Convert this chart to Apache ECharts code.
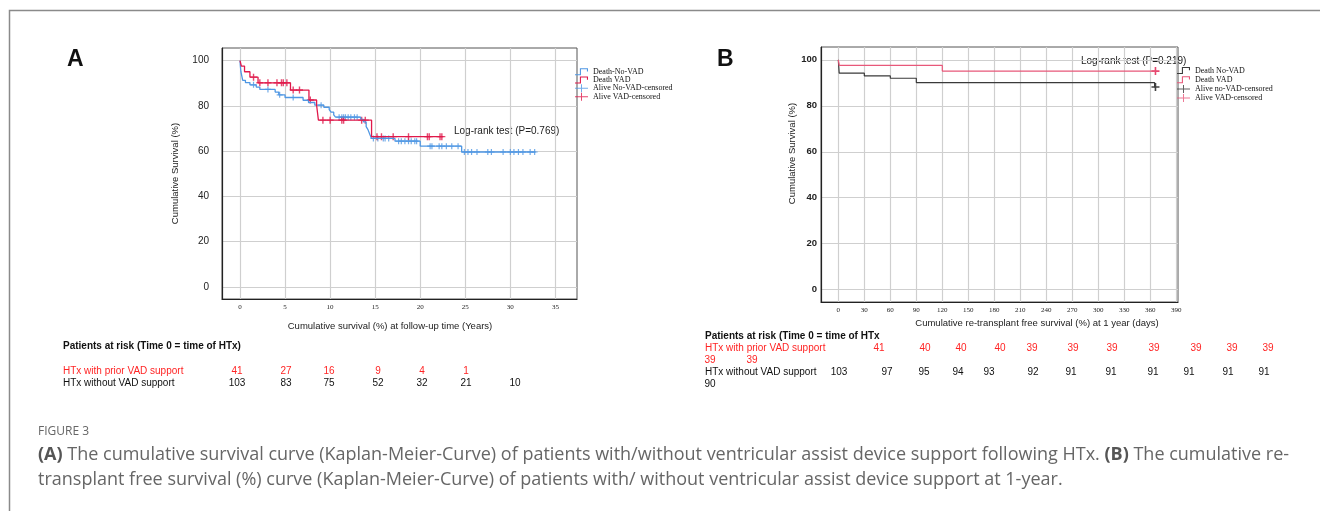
<!DOCTYPE html>
<html lang="en">
<head>
<meta charset="UTF-8">
<title>Figure 3</title>
<style>
  html, body { margin: 0; padding: 0; background: #fff; }
  #chart { width: 1320px; height: 511px; }
</style>
</head>
<body>
<div id="chart"></div>
<script src="https://cdn.jsdelivr.net/npm/echarts@6/dist/echarts.min.js"></script>
<script>
// tick labels
const xTicksA = [0, 5, 10, 15, 20, 25, 30, 35];
const xTicksB = [0, 30, 60, 90, 120, 150, 180, 210, 240, 270, 300, 330, 360, 390];
const yTicks = [0, 20, 40, 60, 80, 100];

// panel A: [years, survival %] after each death step
const noVadStepsA = [[0.05, 97.1], [0.1, 95.1], [0.2, 93.2], [0.3, 91.3], [0.6, 90.3], [1.1, 89.3],
  [1.8, 88.3], [2.2, 87.3], [3.9, 86.1], [4.3, 84.9], [5.0, 83.7], [7.0, 82.5], [7.6, 81.5],
  [8.3, 80.3], [9.3, 79.4], [9.9, 78.3], [10.1, 77.2], [10.4, 76.0], [10.6, 75.0], [13.4, 74.0],
  [13.7, 72.9], [14.0, 70.8], [14.2, 69.5], [14.4, 67.5], [14.6, 65.6], [17.2, 64.4],
  [20.0, 62.2], [24.6, 59.6]];
const noVadEndA = 32.8;
const vadStepsA = [[0.15, 97.6], [0.5, 95.1], [1.1, 92.7], [2.0, 90.2], [5.6, 87.0], [7.65, 82.6],
  [8.5, 80.3], [8.7, 73.7], [14.6, 66.4]];
const vadEndA = 22.5;
const noVadCensorA = [1.5, 3.1, 4.4, 5.9, 9.0, 11.0, 11.3, 11.5, 11.7, 12.0, 12.3, 12.7, 13.0, 14.8,
  15.3, 15.9, 16.1, 16.5, 17.6, 17.9, 18.3, 18.7, 19.0, 19.4, 19.6, 21.1, 21.3, 22.1, 22.4, 22.9,
  23.5, 24.2, 24.9, 25.3, 25.7, 26.3, 27.5, 27.9, 29.2, 30.0, 30.4, 30.9, 31.4, 32.2, 32.7];
const vadCensorA = [1.5, 2.2, 3.1, 4.1, 4.6, 4.8, 5.2, 5.9, 6.6, 7.8, 9.2, 10.0, 11.3, 11.5, 13.5,
  13.9, 15.2, 15.7, 17.0, 18.7, 20.8, 21.0, 22.2, 22.4];

// panel B: [days, survival %]
const noVadStepsB = [[1, 94.2], [30, 93.0], [60, 92.0], [90, 90.1], [365, 88.2]];
const noVadEndB = 366;
const vadStepsB = [[1, 97.6], [120, 95.1]];
const vadEndB = 366;
const noVadCensorB = [366];
const vadCensorB = [366];

// patients at risk
const riskAVad = [41, 27, 16, 9, 4, 1];
const riskANoVad = [103, 83, 75, 52, 32, 21, 10];
const riskBVad = [41, 40, 40, 40, 39, 39, 39, 39, 39, 39, 39, 39, 39];
const riskBNoVad = [103, 97, 95, 94, 93, 92, 91, 91, 91, 91, 91, 91, 90];

// where the risk numbers sit (layout only)
const riskAColX = [237, 286, 329, 378, 422, 466, 515];
const riskBVadX = [879, 925, 961, 1000, 1032, 1073, 1112, 1154, 1196, 1232, 1268, 710, 752];
const riskBNoVadX = [839, 887, 924, 958, 989, 1033, 1071, 1111, 1153, 1189, 1228, 1264, 710];

const blueA = '#4f97e3', redA = '#e0184a', blackB = '#3a3a3a', pinkB = '#e8587a', redRisk = '#ff2424';
const sans = '"Liberation Sans", Arial, sans-serif';
const serif = '"Liberation Serif", "Times New Roman", serif';
const capFont = '"Open Sans", sans-serif';

function kmLine(steps, end) {
  const pts = [[0, 100]].concat(steps);
  pts.push([end, pts[pts.length - 1][1]]);
  return pts;
}
function levelAt(steps, t) {
  let s = 100;
  steps.forEach(p => { if (p[0] <= t) s = p[1]; });
  return s;
}
function censorPts(steps, times) {
  return times.map(t => [t, levelAt(steps, t)]);
}

const plusSym = 'path://M0,4 H10 V6 H0 Z M4,0 H6 V10 H4 Z';
const stepIcon = 'path://M0,6.5 H4.5 V1 H12 V4 H11 V2 H5.5 V7.5 H0 Z';
const plusIcon = 'path://M0,3.5 H13 V4.5 H0 Z M6,0 H7 V8 H6 Z';

function xAxisCfg(grid, min, max, ticks, name, gap, pad) {
  return {
    gridIndex: grid, type: 'value', min: min, max: max,
    name: name, nameLocation: 'middle', nameGap: gap,
    nameTextStyle: { fontFamily: sans, fontSize: 9.5, color: '#222', padding: pad },
    axisLine: { show: true, onZero: false, lineStyle: { color: '#222', width: 1.2 } },
    axisTick: { show: false, customValues: ticks },
    axisLabel: { customValues: ticks, fontFamily: serif, fontSize: 7, color: '#222', margin: 5 },
    splitLine: { show: true, lineStyle: { color: '#cfcfcf', width: 1.2 } }
  };
}
function yAxisCfg(grid, name, gap, pad, bold, margin) {
  return {
    gridIndex: grid, type: 'value', min: -5.4, max: 105.6,
    name: name, nameLocation: 'middle', nameGap: gap,
    nameTextStyle: { fontFamily: sans, fontSize: 9.5, color: '#222', padding: pad },
    axisLine: { show: true, onZero: false, lineStyle: { color: '#222', width: 1.2 } },
    axisTick: { show: false, customValues: yTicks },
    axisLabel: { customValues: yTicks, fontFamily: sans, fontSize: bold ? 9.5 : 10,
      fontWeight: bold ? 'bold' : 'normal', color: '#222', margin: margin },
    splitLine: { show: true, lineStyle: { color: '#cfcfcf', width: 1.2 } }
  };
}

const chart = echarts.init(document.getElementById('chart'));

const graphics = [
  { type: 'rect', shape: { x: 9.5, y: 10.5, width: 1400, height: 600 },
    style: { fill: 'none', stroke: '#8a8a8a', lineWidth: 1.5 } },
  { type: 'text', x: 67, y: 60, style: { text: 'A', font: 'bold 23px ' + sans, fill: '#111', verticalAlign: 'middle' } },
  { type: 'text', x: 717, y: 60, style: { text: 'B', font: 'bold 23px ' + sans, fill: '#111', verticalAlign: 'middle' } },
  { type: 'text', x: 454, y: 131, style: { text: 'Log-rank test (P=0.769)', font: '10px ' + sans, fill: '#222', verticalAlign: 'middle' } },
  { type: 'text', x: 1081, y: 61, style: { text: 'Log-rank test (P=0.219)', font: '10px ' + sans, fill: '#222', verticalAlign: 'middle' } },
  // risk table A
  { type: 'text', x: 63, y: 346, style: { text: 'Patients at risk (Time 0 = time of HTx)', font: 'bold 10px ' + sans, fill: '#111', verticalAlign: 'middle' } },
  { type: 'text', x: 63, y: 371, style: { text: 'HTx with prior VAD support', font: '10px ' + sans, fill: redRisk, verticalAlign: 'middle' } },
  { type: 'text', x: 63, y: 383, style: { text: 'HTx without VAD support', font: '10px ' + sans, fill: '#111', verticalAlign: 'middle' } },
  // risk table B
  { type: 'text', x: 705, y: 336, style: { text: 'Patients at risk (Time 0 = time of HTx', font: 'bold 10px ' + sans, fill: '#111', verticalAlign: 'middle' } },
  { type: 'text', x: 705, y: 348, style: { text: 'HTx with prior VAD support', font: '10px ' + sans, fill: redRisk, verticalAlign: 'middle' } },
  { type: 'text', x: 705, y: 372, style: { text: 'HTx without VAD support', font: '10px ' + sans, fill: '#111', verticalAlign: 'middle' } },
  // caption
  { type: 'text', x: 38, y: 432, style: { text: 'FIGURE 3', font: '12px ' + capFont, fill: '#666', verticalAlign: 'middle' } },
  { type: 'text', x: 38, y: 455, style: {
      text: '{b|(A)} The cumulative survival curve (Kaplan-Meier-Curve) of patients with/without ventricular assist device support following HTx. {b|(B)} The cumulative re-',
      font: '18px ' + capFont, fill: '#666', verticalAlign: 'middle',
      rich: { b: { font: 'bold 18px ' + capFont, fill: '#555' } } } },
  { type: 'text', x: 38, y: 480, style: {
      text: 'transplant free survival (%) curve (Kaplan-Meier-Curve) of patients with/ without ventricular assist device support at 1-year.',
      font: '18px ' + capFont, fill: '#666', verticalAlign: 'middle' } }
];

riskAVad.forEach((v, i) => graphics.push({ type: 'text', x: riskAColX[i], y: 371,
  style: { text: String(v), font: '10px ' + sans, fill: redRisk, align: 'center', verticalAlign: 'middle' } }));
riskANoVad.forEach((v, i) => graphics.push({ type: 'text', x: riskAColX[i], y: 383,
  style: { text: String(v), font: '10px ' + sans, fill: '#111', align: 'center', verticalAlign: 'middle' } }));
riskBVad.forEach((v, i) => graphics.push({ type: 'text', x: riskBVadX[i], y: i < 11 ? 348 : 360,
  style: { text: String(v), font: '10px ' + sans, fill: redRisk, align: 'center', verticalAlign: 'middle' } }));
riskBNoVad.forEach((v, i) => graphics.push({ type: 'text', x: riskBNoVadX[i], y: i < 12 ? 372 : 384,
  style: { text: String(v), font: '10px ' + sans, fill: '#111', align: 'center', verticalAlign: 'middle' } }));

chart.setOption({
  animation: false,
  backgroundColor: '#fff',
  grid: [
    { left: 222, top: 48, width: 355, height: 251, show: true, borderColor: '#555', borderWidth: 1, backgroundColor: '#fff' },
    { left: 821, top: 47, width: 357, height: 255, show: true, borderColor: '#555', borderWidth: 1, backgroundColor: '#fff' }
  ],
  xAxis: [
    xAxisCfg(0, -2, 37.4, xTicksA, 'Cumulative survival (%) at follow-up time (Years)', 22, [0, 19, 0, 0]),
    xAxisCfg(1, -20, 392, xTicksB, 'Cumulative re-transplant free survival (%) at 1 year (days)', 16, [0, 0, 0, 75])
  ],
  yAxis: [
    yAxisCfg(0, 'Cumulative Survival (%)', 42, [0, 0, 0, 0], false, 13),
    yAxisCfg(1, 'Cumulative Survival (%)', 24, [0, 0, 0, 42], true, 4)
  ],
  legend: [
    { orient: 'vertical', left: 575, top: 67.7, padding: 0, itemGap: 0.33, itemWidth: 13, itemHeight: 8,
      selectedMode: false, itemStyle: { borderWidth: 0 },
      textStyle: { fontFamily: serif, fontSize: 8, color: '#111', lineHeight: 8 },
      data: [
        { name: 'Death-No-VAD', icon: stepIcon, itemStyle: { color: blueA } },
        { name: 'Death VAD', icon: stepIcon, itemStyle: { color: redA } },
        { name: 'Alive No-VAD-censored', icon: plusIcon, itemStyle: { color: blueA } },
        { name: 'Alive VAD-censored', icon: plusIcon, itemStyle: { color: redA } }
      ] },
    { orient: 'vertical', left: 1177, top: 66.5, padding: 0, itemGap: 1.2, itemWidth: 13, itemHeight: 8,
      selectedMode: false, itemStyle: { borderWidth: 0 },
      textStyle: { fontFamily: serif, fontSize: 8, color: '#111', lineHeight: 8 },
      data: [
        { name: 'Death No-VAD', icon: stepIcon, itemStyle: { color: blackB } },
        { name: 'Death VAD', icon: stepIcon, itemStyle: { color: pinkB } },
        { name: 'Alive no-VAD-censored', icon: plusIcon, itemStyle: { color: blackB } },
        { name: 'Alive VAD-censored', icon: plusIcon, itemStyle: { color: pinkB } }
      ] }
  ],
  graphic: graphics,
  series: [
    { name: 'Death-No-VAD', type: 'line', xAxisIndex: 0, yAxisIndex: 0, step: 'end', symbol: 'none',
      color: blueA, lineStyle: { color: blueA, width: 1.3 }, data: kmLine(noVadStepsA, noVadEndA) },
    { name: 'Alive No-VAD-censored', type: 'scatter', xAxisIndex: 0, yAxisIndex: 0, symbol: plusSym, symbolSize: 6,
      color: blueA, itemStyle: { color: blueA }, data: censorPts(noVadStepsA, noVadCensorA) },
    { name: 'Death VAD', type: 'line', xAxisIndex: 0, yAxisIndex: 0, step: 'end', symbol: 'none',
      color: redA, lineStyle: { color: redA, width: 1.3 }, data: kmLine(vadStepsA, vadEndA) },
    { name: 'Alive VAD-censored', type: 'scatter', xAxisIndex: 0, yAxisIndex: 0, symbol: plusSym, symbolSize: 7,
      color: redA, itemStyle: { color: redA }, data: censorPts(vadStepsA, vadCensorA) },

    { name: 'Death No-VAD', type: 'line', xAxisIndex: 1, yAxisIndex: 1, step: 'end', symbol: 'none',
      color: blackB, lineStyle: { color: blackB, width: 1.2 }, data: kmLine(noVadStepsB, noVadEndB) },
    { name: 'Alive no-VAD-censored', type: 'scatter', xAxisIndex: 1, yAxisIndex: 1, symbol: plusSym, symbolSize: 8,
      color: blackB, itemStyle: { color: '#111' }, data: censorPts(noVadStepsB, noVadCensorB) },
    { name: 'Death VAD B', type: 'line', xAxisIndex: 1, yAxisIndex: 1, step: 'end', symbol: 'none',
      color: pinkB, lineStyle: { color: pinkB, width: 1.2 }, data: kmLine(vadStepsB, vadEndB) },
    { name: 'Alive VAD-censored B', type: 'scatter', xAxisIndex: 1, yAxisIndex: 1, symbol: plusSym, symbolSize: 8,
      color: redA, itemStyle: { color: redA }, data: censorPts(vadStepsB, vadCensorB) }
  ]
});
</script>
</body>
</html>
